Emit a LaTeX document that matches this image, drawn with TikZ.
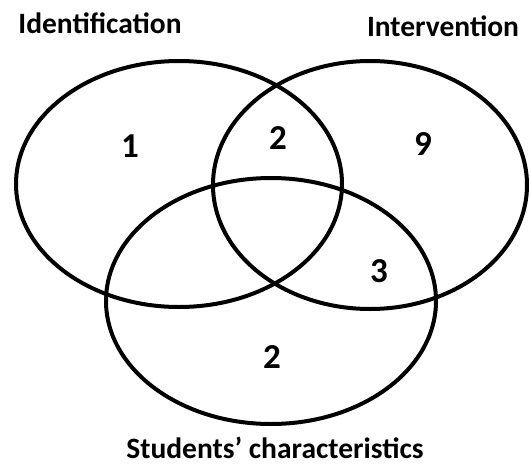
\documentclass[tikz,border=0pt]{standalone}
\usepackage{fontspec}
\setmainfont{Carlito}
\begin{document}
\begin{tikzpicture}[x=1pt, y=-1pt]
	\tikzstyle{set}=[line width=4pt, draw=black]
	\tikzstyle{title}=[anchor=base, font=\fontsize{29.5}{29.5}\selectfont\bfseries, inner sep=0pt]
	\tikzstyle{count}=[anchor=base, font=\fontsize{35}{35}\selectfont\bfseries, inner sep=0pt]
	\useasboundingbox (0, 0) rectangle (531, 466);

	\draw [set] (179, 184) ellipse [x radius=163, y radius=123];
	\draw [set] (370, 185) ellipse [x radius=157, y radius=124];
	\draw [set] (271, 301) ellipse [x radius=165, y radius=123];

	\draw node[title] at (100, 33) (ident) {Identification};
	\draw node[title] at (443, 36) (interv) {Intervention};
	\draw node[title] at (275, 458) (students) {Students’ characteristics};

	\draw node[count] at (130, 157) (n1) {1};
	\draw node[count] at (278, 149) (n12) {2};
	\draw node[count] at (423, 155) (n2) {9};
	\draw node[count] at (379, 282) (n23) {3};
	\draw node[count] at (272, 368) (n3) {2};
\end{tikzpicture}
\end{document}
